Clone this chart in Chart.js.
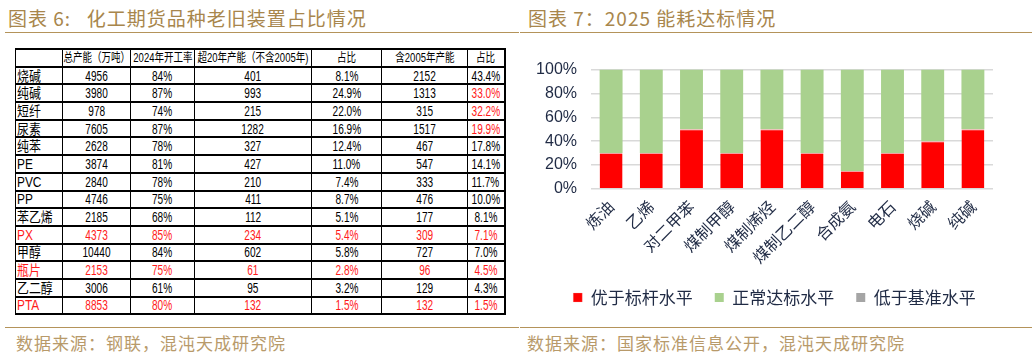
<!DOCTYPE html>
<html>
<head>
<meta charset="utf-8">
<script src="https://cdn.jsdelivr.net/npm/chart.js@4"></script>
<style>
    body { margin: 0; width: 1032px; height: 360px; background: #fff; position: relative; overflow: hidden; font-family: "Noto Sans CJK SC", sans-serif; }
    .title { position: absolute; top: 4px; font-size: 19px; color: #a8864c; letter-spacing: 1px; }
    .rule { position: absolute; height: 0; border-top: 1.5px solid #b4935a; }
    .source { position: absolute; top: 330px; font-size: 17px; color: #b89a6a; letter-spacing: 1px; }
    table { position: absolute; left: 15px; top: 48px; width: 489px; table-layout: fixed; border-collapse: collapse; font-family: "Liberation Sans", "Noto Sans CJK SC", sans-serif; font-size: 14px; color: #000; }
    tr { height: 17.7px; }
    td { border-left: 1px solid #000; border-right: 1px solid #000; border-bottom: 2px solid #000; padding: 0; line-height: 14px; text-align: center; white-space: nowrap; overflow: visible; }
    td:last-child { border-right-width: 2px; }
    tr:first-child td { border-top: 2.5px solid #000; }
    td span { display: inline-block; margin: 0 -60px; transform: scaleX(0.72); transform-origin: center; }
    td:first-child { text-align: left; padding-left: 1px; }
    td:first-child span { margin: 0; transform-origin: left; transform: scaleX(0.85); }
    tr:first-child td span { font-size: 12.5px; transform: scaleX(0.76); }
    .red { color: #ff1a1a; }
    #chartBox { position: absolute; left: 520px; top: 46px; width: 510px; height: 270px; }
</style>
</head>
<body>
<div class="title" style="left:8px">图表 6:&nbsp;&nbsp; 化工期货品种老旧装置占比情况</div>
<div class="rule" style="left:5px; width:514px; top:32px"></div>
<div class="title" style="left:528px">图表 7：2025 能耗达标情况</div>
<div class="rule" style="left:520px; width:512px; top:32px"></div>

<table id="capTable"></table>

<div id="chartBox"><canvas id="energyChart"></canvas></div>

<div class="rule" style="left:5px; width:514px; top:327px"></div>
<div class="rule" style="left:520px; width:512px; top:327px"></div>
<div class="source" style="left:16px">数据来源：钢联，混沌天成研究院</div>
<div class="source" style="left:527px">数据来源：国家标准信息公开，混沌天成研究院</div>

<script>
// table data (图表 6)
const tableHeaders = ['', '总产能（万吨）', '2024年开工率', '超20年产能（不含2005年)', '占比', '含2005年产能', '占比'];
const products = ['烧碱', '纯碱', '短纤', '尿素', '纯苯', 'PE', 'PVC', 'PP', '苯乙烯', 'PX', '甲醇', '瓶片', '乙二醇', 'PTA'];
const totalCapacity = ['4956', '3980', '978', '7605', '2628', '3874', '2840', '4746', '2185', '4373', '10440', '2153', '3006', '8853'];
const runRate2024 = ['84%', '87%', '74%', '87%', '78%', '81%', '78%', '75%', '68%', '85%', '84%', '75%', '61%', '80%'];
const over20Capacity = ['401', '993', '215', '1282', '327', '427', '210', '411', '112', '234', '602', '61', '95', '132'];
const over20Share = ['8.1%', '24.9%', '22.0%', '16.9%', '12.4%', '11.0%', '7.4%', '8.7%', '5.1%', '5.4%', '5.8%', '2.8%', '3.2%', '1.5%'];
const incl2005Capacity = ['2152', '1313', '315', '1517', '467', '547', '333', '476', '177', '309', '727', '96', '129', '132'];
const incl2005Share = ['43.4%', '33.0%', '32.2%', '19.9%', '17.8%', '14.1%', '11.7%', '10.0%', '8.1%', '7.1%', '7.0%', '4.5%', '4.3%', '1.5%'];
const redRows = ['PX', '瓶片', 'PTA'];
const redShares = ['纯碱', '短纤', '尿素'];

// chart data (图表 7)
const categories = ['炼油', '乙烯', '对二甲苯', '煤制甲醇', '煤制烯烃', '煤制乙二醇', '合成氨', '电石', '烧碱', '纯碱'];
const betterThanBenchmark = [30, 30, 50, 30, 50, 30, 15, 30, 40, 50];
const normalStandard = [70, 70, 50, 70, 50, 70, 85, 70, 60, 50];
const belowBaseline = [0, 0, 0, 0, 0, 0, 0, 0, 0, 0];
const seriesNames = ['优于标杆水平', '正常达标水平', '低于基准水平'];

const colWidths = [47, 68, 64, 117, 70, 86, 37];

const buildTable = () => {
    const table = document.getElementById('capTable');
    const cell = (text, cls) => `<td${cls ? ` class="${cls}"` : ''}><span>${text}</span></td>`;
    let html = '<colgroup>' + colWidths.map(w => `<col style="width:${w}px">`).join('') + '</colgroup>';
    html += '<tr>' + tableHeaders.map(h => cell(h)).join('') + '</tr>';
    products.forEach((p, i) => {
        const rowRed = redRows.includes(p);
        const shareRed = rowRed || redShares.includes(p);
        html += `<tr${rowRed ? ' class="red"' : ''}>` + cell(p) + cell(totalCapacity[i]) + cell(runRate2024[i]) +
            cell(over20Capacity[i]) + cell(over20Share[i]) + cell(incl2005Capacity[i]) +
            cell(incl2005Share[i], shareRed ? 'red' : '') + '</tr>';
    });
    table.innerHTML = html;
};

// nudge the legend so it sits centred under the whole panel, like the original
const legendShift = {
    id: 'legendShift',
    afterLayout: (chart) => {
        chart.legend.left += 10;
        chart.legend.right += 10;
    }
};

const renderEnergyChart = (canvas) => {
    const ctx = canvas.getContext('2d');
    const textColor = '#1f2a44';

    new Chart(ctx, {
        type: 'bar',
        data: {
            labels: categories,
            datasets: [
                { label: seriesNames[0], data: betterThanBenchmark, backgroundColor: '#ff0000', borderColor: '#f4a0a0', borderWidth: { top: 1 } },
                { label: seriesNames[1], data: normalStandard, backgroundColor: '#a9d18e' },
                { label: seriesNames[2], data: belowBaseline, backgroundColor: '#a5a5a5' }
            ]
        },
        options: {
            responsive: true,
            maintainAspectRatio: false,
            animation: false,
            layout: { padding: { left: 16, right: 37, top: 12, bottom: 0 } },
            datasets: { bar: { categoryPercentage: 1, barPercentage: 0.57 } },
            scales: {
                x: {
                    stacked: true,
                    grid: { display: false },
                    border: { display: false },
                    ticks: { color: textColor, font: { family: 'Noto Sans CJK SC', size: 16 }, minRotation: 45, maxRotation: 45, padding: 0 }
                },
                y: {
                    stacked: true,
                    min: 0,
                    max: 100,
                    afterFit: (scale) => { scale.width = 55; },
                    grid: { color: '#d9d9d9', lineWidth: 1.5, drawTicks: false },
                    border: { display: false },
                    ticks: { stepSize: 20, color: textColor, padding: 14, font: { family: 'Liberation Sans', size: 16 }, callback: v => v + '%' }
                }
            },
            plugins: {
                legend: {
                    position: 'bottom',
                    labels: { color: textColor, boxWidth: 9, boxHeight: 9, padding: 22, font: { family: 'Noto Sans CJK SC', size: 17 } }
                },
                tooltip: { enabled: false }
            }
        },
        plugins: [legendShift]
    });
};

buildTable();
renderEnergyChart(document.getElementById('energyChart'));
</script>
</body>
</html>
